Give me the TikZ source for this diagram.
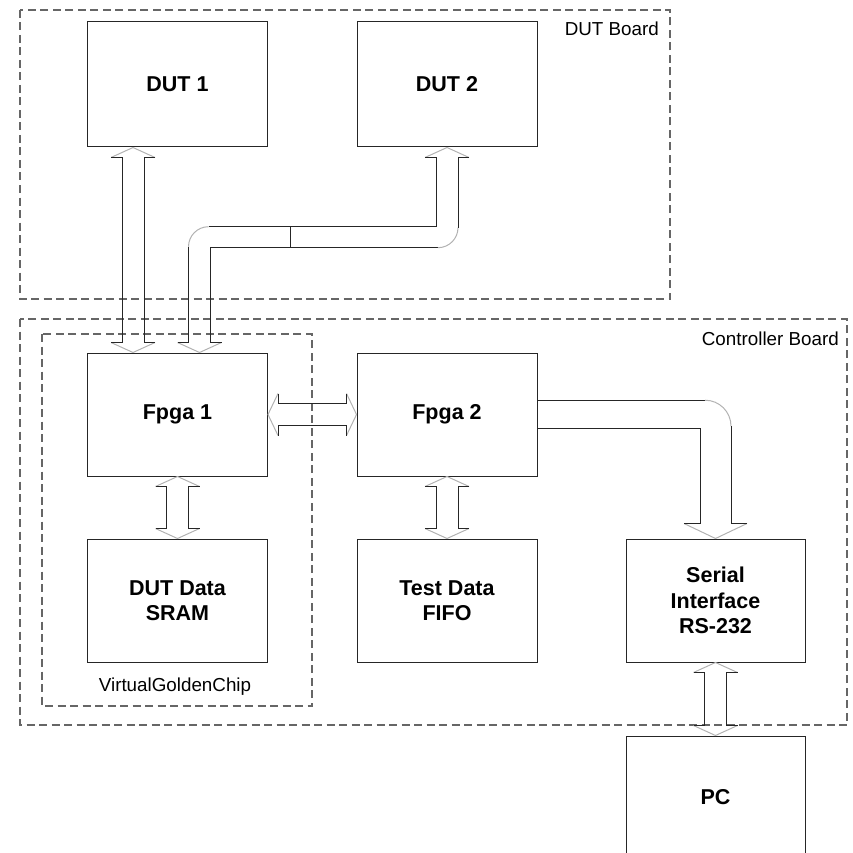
\documentclass[tikz,border=0pt]{standalone}
\usepackage{fontspec}
\setmainfont{Liberation Sans}
\usetikzlibrary{calc}
\newcommand{\vbus}[2]{%
  \draw[soft] ($(#1)+(-22,10)$) -- (#1) -- ($(#1)+(22,10)$);
  \draw[soft] ($(#2)+(-22,-10)$) -- (#2) -- ($(#2)+(22,-10)$);
  \draw[bus] ($(#1)+(-22,10)$) -- ($(#1)+(-11,10)$) -- ($(#2)+(-11,-10)$) -- ($(#2)+(-22,-10)$);
  \draw[bus] ($(#1)+(22,10)$) -- ($(#1)+(11,10)$) -- ($(#2)+(11,-10)$) -- ($(#2)+(22,-10)$);
}
\newcommand{\hbus}[2]{%
  \draw[soft] ($(#1)+(10,-21)$) -- (#1) -- ($(#1)+(10,21)$);
  \draw[soft] ($(#2)+(-10,-21)$) -- (#2) -- ($(#2)+(-10,21)$);
  \draw[bus] ($(#1)+(10,-21)$) -- ($(#1)+(10,-11)$) -- ($(#2)+(-10,-11)$) -- ($(#2)+(-10,-21)$);
  \draw[bus] ($(#1)+(10,21)$) -- ($(#1)+(10,11)$) -- ($(#2)+(-10,11)$) -- ($(#2)+(-10,21)$);
}
\begin{document}
\begin{tikzpicture}[x=1pt,y=-1pt,
  box/.style={draw=black!85,line width=1pt,minimum width=180pt,minimum height=123pt,inner sep=0pt,
    font=\fontsize{21.5}{25.5}\selectfont\bfseries,align=center},
  board/.style={draw=black!60,line width=1.2pt,dash pattern=on 8pt off 4.5pt},
  bus/.style={draw=black!85,line width=1pt},
  soft/.style={draw=black!30,line width=1pt},
  lbl/.style={font=\fontsize{18.8}{22}\selectfont,inner sep=0pt}]
\useasboundingbox (0,0) rectangle (852,853);
\clip (0,0) rectangle (852,853);
% boards
\draw[board] (20,10) rectangle (670,299);
\draw[board] (20,319) rectangle (847,725);
\draw[board] (42,334) rectangle (312,706);
% blocks
\node[box, minimum height=125pt] (dut1) at (177.5,84.5) {DUT 1};
\node[box, minimum height=125pt] (dut2) at (447,84.5) {DUT 2};
\node[box] (fpga1) at (177.5,414.5) {Fpga 1};
\node[box] (fpga2) at (447,414.5) {Fpga 2};
\node[box] (sram) at (177.5,600.5) {DUT Data\\SRAM};
\node[box] (fifo) at (447,600.5) {Test Data\\FIFO};
\node[box, minimum width=179pt] (serial) at (715.5,600.5) {Serial\\Interface\\RS-232};
\node[box, minimum width=179pt] (pc) at (715.5,797.5) {PC};
% labels
\node[lbl, anchor=east] (dutlbl) at (659,29) {DUT Board};
\node[lbl, anchor=east] (ctrllbl) at (839,339) {Controller Board};
\node[lbl] (vgclbl) at (175,687) {VirtualGoldenChip};
% DUT1 <-> Fpga1
\coordinate (a1t) at ($(dut1.south)+(-44.5,0)$);
\coordinate (a1b) at ($(fpga1.north)+(-44.5,0)$);
\vbus{a1t}{a1b}
% Fpga1 <-> SRAM, Fpga2 <-> FIFO, Serial <-> PC
\vbus{fpga1.south}{sram.north}
\vbus{fpga2.south}{fifo.north}
\vbus{serial.south}{pc.north}
% Fpga1 <-> Fpga2
\hbus{fpga1.east}{fpga2.west}
% DUT2 <-> Fpga1 (bent bus)
\coordinate (t2) at (dut2.south);
\coordinate (b2) at ($(fpga1.north)+(22,0)$);
\coordinate (mid) at (290,237.2);
\draw[soft] ($(t2)+(-22,10)$) -- (t2) -- ($(t2)+(22,10)$);
\draw[soft] ($(b2)+(-22,-10)$) -- (b2) -- ($(b2)+(22,-10)$);
\draw[bus] ($(t2)+(-22,10)$) -- ($(t2)+(-11,10)$) -- ($(t2 |- mid)+(-11,-10.5)$) -- ($(b2 |- mid)+(9,-10.5)$);
\draw[soft] ($(b2 |- mid)+(9,-10.5)$) .. controls +(-11,0) and +(0,-11) .. ($(b2 |- mid)+(-11,9.5)$);
\draw[bus] ($(b2 |- mid)+(-11,9.5)$) -- ($(b2)+(-11,-10)$) -- ($(b2)+(-22,-10)$);
\draw[bus] ($(b2)+(22,-10)$) -- ($(b2)+(11,-10)$) -- ($(b2 |- mid)+(11,10.5)$) -- ($(t2 |- mid)+(-9,10.5)$);
\draw[soft] ($(t2 |- mid)+(-9,10.5)$) .. controls +(11,0) and +(0,11) .. ($(t2 |- mid)+(11,-9.5)$);
\draw[bus] ($(t2 |- mid)+(11,-9.5)$) -- ($(t2)+(11,10)$) -- ($(t2)+(22,10)$);
\draw[bus] ($(mid)+(0,-10.5)$) -- ($(mid)+(0,10.5)$);
% Fpga2 -> Serial
\coordinate (s0) at (fpga2.east);
\coordinate (st) at (serial.north);
\draw[soft] ($(st)+(-31.5,-15)$) -- (st) -- ($(st)+(31.5,-15)$);
\draw[bus] ($(s0)+(0,-14.3)$) -- ($(st |- s0)+(-10.5,-14.3)$);
\draw[soft] ($(st |- s0)+(-10.5,-14.3)$) .. controls +(14.4,0) and +(0,-14.4) .. ($(st |- s0)+(15.5,11.7)$);
\draw[bus] ($(st |- s0)+(15.5,11.7)$) -- ($(st)+(15.5,-15)$) -- ($(st)+(31.5,-15)$);
\draw[bus] ($(s0)+(0,14.3)$) -- ($(st |- s0)+(-15.5,14.3)$) -- ($(st)+(-15.5,-15)$) -- ($(st)+(-31.5,-15)$);
\end{tikzpicture}
\end{document}
